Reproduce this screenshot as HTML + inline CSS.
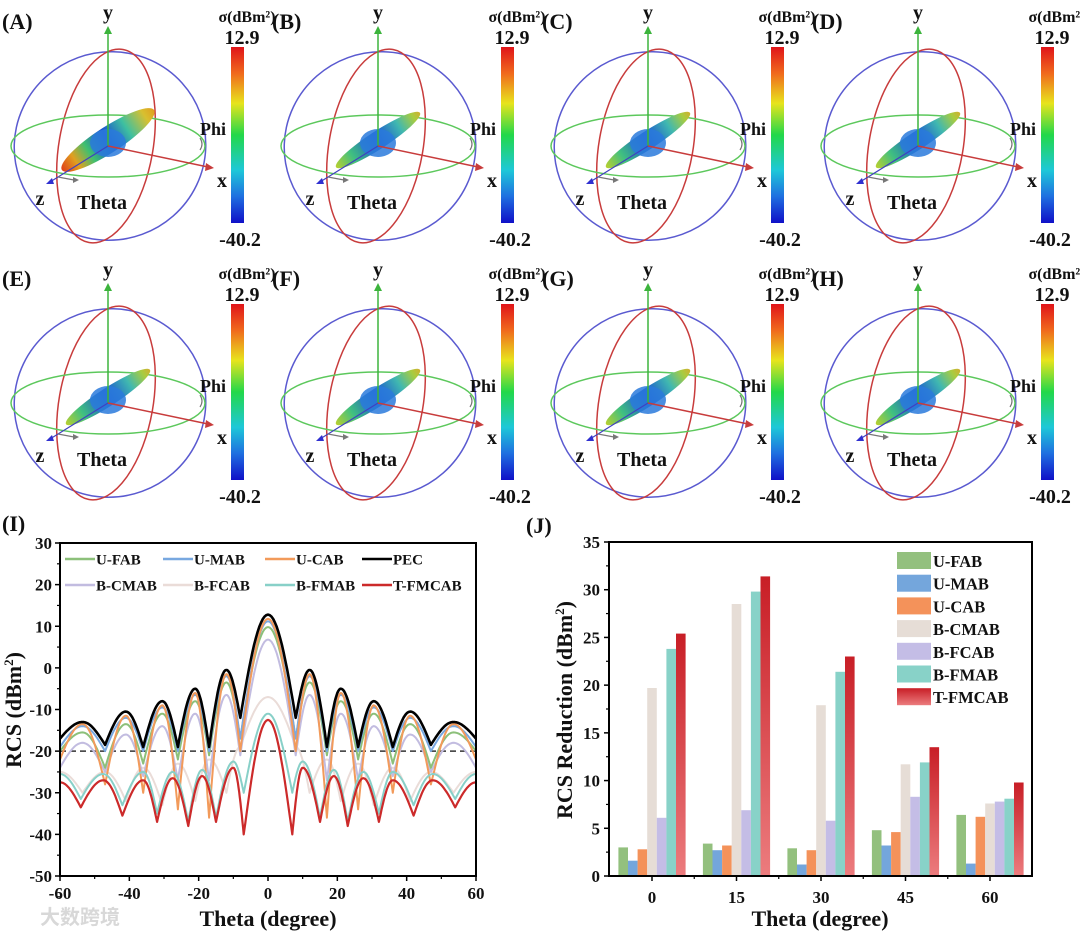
<!DOCTYPE html>
<html><head><meta charset="utf-8">
<style>
html,body{margin:0;padding:0;background:#fff;}
body{width:1080px;height:939px;position:relative;overflow:hidden;font-family:"Liberation Serif",serif;}
svg{position:absolute;left:0;top:0;}
text{font-family:"Liberation Serif",serif;font-weight:bold;fill:#111;}
</style></head>
<body>
<svg id="fig" width="1080" height="939" viewBox="0 0 1080 939" xmlns="http://www.w3.org/2000/svg">
<defs>
<linearGradient id="cbar" x1="0" y1="0" x2="0" y2="1">
<stop offset="0" stop-color="#e0141a"/><stop offset="0.15" stop-color="#f06a1c"/><stop offset="0.32" stop-color="#e8e41c"/><stop offset="0.5" stop-color="#22d84a"/><stop offset="0.7" stop-color="#1ec8d8"/><stop offset="0.85" stop-color="#1f6fe0"/><stop offset="1" stop-color="#1010c8"/>
</linearGradient>
<linearGradient id="lobeA" x1="0" y1="0" x2="1" y2="0">
<stop offset="0" stop-color="#e0401a"/><stop offset="0.15" stop-color="#e0a020"/><stop offset="0.3" stop-color="#3ec070"/><stop offset="0.5" stop-color="#1a50d0"/><stop offset="0.7" stop-color="#3ec0a0"/><stop offset="0.9" stop-color="#d8c030"/><stop offset="1" stop-color="#e0a020"/>
</linearGradient>
<linearGradient id="lobeB" x1="0" y1="0" x2="1" y2="0">
<stop offset="0" stop-color="#b8d030"/><stop offset="0.2" stop-color="#40c080"/><stop offset="0.5" stop-color="#1a50d0"/><stop offset="0.75" stop-color="#40b8b0"/><stop offset="0.92" stop-color="#a8cc40"/><stop offset="1" stop-color="#d0b030"/>
</linearGradient>
<linearGradient id="redbar" x1="0" y1="0" x2="0" y2="1">
<stop offset="0" stop-color="#c81e26"/><stop offset="1" stop-color="#ec7c7e"/>
</linearGradient>
</defs>
<g id="panels"></g>
<g id="chartI"></g>
<g id="chartJ"></g>
<text x="40" y="924" font-size="20" style="fill:#d8d8d8;font-family:'Liberation Sans','Noto Sans CJK SC',sans-serif;">大数跨境</text>
</svg>
<script>
var NS='http://www.w3.org/2000/svg';
function mk(tag,attrs,parent,txt){var e=document.createElementNS(NS,tag);for(var k in attrs)e.setAttribute(k,attrs[k]);if(txt!==undefined)e.textContent=txt;parent.appendChild(e);return e;}

/* ===== 3D panels ===== */
var panelLabels=['(A)','(B)','(C)','(D)','(E)','(F)','(G)','(H)'];
var panelsG=document.getElementById('panels');
panelLabels.forEach(function(lab,i){
  var ox=(i%4)*270, oy=Math.floor(i/4)*257;
  var g=mk('g',{transform:'translate('+ox+','+oy+')'},panelsG);
  
  
  var t=mk('text',{x:2,y:29,'font-size':22},g,lab);
  
  
  mk('ellipse',{cx:110,cy:146,rx:96,ry:94,transform:'rotate(-20 110 146)',fill:'none',stroke:'#5a5ad0','stroke-width':1.5},g);
  mk('ellipse',{cx:106,cy:146,rx:47,ry:98,transform:'rotate(10 106 146)',fill:'none',stroke:'#c83c3c','stroke-width':1.5},g);
  mk('ellipse',{cx:108,cy:146,rx:97,ry:31,fill:'none',stroke:'#5cc85c','stroke-width':1.5},g);
  var lobe=mk('ellipse',{cx:108,cy:140,rx:i==0?55:50,ry:i==0?13:9,transform:'rotate(-33 108 140)',fill:i==0?'url(#lobeA)':'url(#lobeB)'},g);
  
  
  mk('ellipse',{cx:108,cy:143,rx:18,ry:14,fill:'#2a7adc',opacity:0.85},g);
  mk('line',{x1:108,y1:146,x2:108,y2:32,stroke:'#3cb43c','stroke-width':1.5},g);
  mk('polygon',{points:'104,34 112,34 108,26',fill:'#3cb43c'},g);
  mk('line',{x1:108,y1:146,x2:208,y2:167,stroke:'#c83c3c','stroke-width':1.5},g);
  mk('polygon',{points:'206,163 214,168 205,171',fill:'#c83c3c'},g);
  mk('line',{x1:108,y1:146,x2:50,y2:182,stroke:'#4040c0','stroke-width':1.2},g);
  mk('polygon',{points:'52,178 46,184 54,184',fill:'#3030d0'},g);
  mk('line',{x1:58,y1:177,x2:74,y2:180,stroke:'#777','stroke-width':1.2},g);
  mk('polygon',{points:'73,177 79,180 73,183',fill:'#777'},g);
  mk('path',{d:'M200,150 q4,-6 0,-12',fill:'none',stroke:'#777','stroke-width':1.2},g);
  mk('text',{x:108,y:19,'font-size':20,'text-anchor':'middle'},g,'y');
  mk('text',{x:222,y:187,'font-size':20,'text-anchor':'middle'},g,'x');
  mk('text',{x:40,y:205,'font-size':20,'text-anchor':'middle'},g,'z');
  mk('text',{x:77,y:209,'font-size':20},g,'Theta');
  mk('text',{x:200,y:135,'font-size':18},g,'Phi');
  var cb=mk('rect',{x:231,y:47,width:13,height:176,fill:'url(#cbar)'},g);
  
  
  mk('text',{x:247,y:22,'font-size':16,'text-anchor':'middle'},g,'σ(dBm²)');
  mk('text',{x:242,y:44,'font-size':20,'text-anchor':'middle'},g,'12.9');
  mk('text',{x:240,y:246,'font-size':20,'text-anchor':'middle'},g,'-40.2');
});

/* ===== Chart I data ===== */
var iSeriesNames=['U-FAB','U-MAB','U-CAB','PEC','B-CMAB','B-FCAB','B-FMAB','T-FMCAB'];
var iThetaKeys=[-60,-53.5,-47,-41,-36,-30.5,-26,-21,-17,-12,-8,0,8,12,17,21,26,30.5,36,41,47,53.5,60];
var ufabVals=[-20,-15.5,-24,-13.5,-23,-11,-22,-8,-21,-3.5,-17,9.8,-17,-3.5,-21,-8,-22,-11,-23,-13.5,-24,-15.5,-20];
var umabVals=[-19,-14,-20,-12,-20,-9.5,-20,-6.5,-20,-2,-17,11.2,-17,-2,-20,-6.5,-20,-9.5,-20,-12,-20,-14,-19];
var ucabVals=[-22,-13.5,-28,-11.5,-30,-9,-34,-6,-36,-1.5,-20,11.8,-20,-1.5,-36,-6,-34,-9,-30,-11.5,-28,-13.5,-22];
var pecVals=[-17,-13,-18.5,-10.5,-19,-8,-19,-5,-19,-0.5,-12,12.8,-12,-0.5,-19,-5,-19,-8,-19,-10.5,-18.5,-13,-17];
var bcmabVals=[-24,-18,-25,-16,-26,-14,-27,-11,-27,-6.5,-21,6.8,-21,-6.5,-27,-11,-27,-14,-26,-16,-25,-18,-24];
var bfcabVals=[-25,-30,-25,-32,-24,-33,-23,-32,-22,-30,-19,-7,-19,-30,-22,-32,-23,-33,-24,-32,-25,-30,-25];
var rThetaKeys=[-60,-54,-47.5,-42,-36,-32,-27.5,-23,-19,-15,-10,-7,0,7,10,15,19,23,27.5,32,36,42,47.5,54,60];
var bfmabVals=[-25.5,-31.5,-25.5,-33,-25,-35,-25,-37,-24.5,-36,-22.5,-30,-11,-30,-22.5,-36,-24.5,-37,-25,-35,-25,-33,-25.5,-31.5,-25.5];
var tfmcabVals=[-27.5,-33.5,-27,-35.5,-27,-37,-26.5,-38,-26,-37,-24,-40,-12.5,-40,-24,-37,-26,-38,-26.5,-37,-27,-35.5,-27,-33.5,-27.5];
var iYTicks=[30,20,10,0,-10,-20,-30,-40,-50];
var iXTicks=[-60,-40,-20,0,20,40,60];

/* ===== Chart J data ===== */
var jCategories=['0','15','30','45','60'];
var jSeriesNames=['U-FAB','U-MAB','U-CAB','B-CMAB','B-FCAB','B-FMAB','T-FMCAB'];
var jUFAB=[3.0,3.4,2.9,4.8,6.4];
var jUMAB=[1.6,2.7,1.2,3.2,1.3];
var jUCAB=[2.8,3.2,2.7,4.6,6.2];
var jBCMAB=[19.7,28.5,17.9,11.7,7.6];
var jBFCAB=[6.1,6.9,5.8,8.3,7.8];
var jBFMAB=[23.8,29.8,21.4,11.9,8.1];
var jTFMCAB=[25.4,31.4,23.0,13.5,9.8];
var jYTicks=[0,5,10,15,20,25,30,35];

/* ===== Chart I drawing ===== */
(function(){
  var G=document.getElementById('chartI');
  var L=60,R=476,T=543,B=876;
  function xs(t){return L+(t+60)/120*(R-L);}
  function ys(v){return T+(30-v)/80*(B-T);}
  var lab=mk('text',{x:2,y:531,'font-size':22},G,'(I)');
  
  
  var colors=['#8cc07a','#78a8e0','#f29a5a','#000000','#c2bce0','#eadcd8','#88d0c8','#cc2a2a'];
  var widths=[2,2,2,2.6,2,2,2,2.2];
  var keys=[iThetaKeys,iThetaKeys,iThetaKeys,iThetaKeys,iThetaKeys,iThetaKeys,rThetaKeys,rThetaKeys];
  var vals=[ufabVals,umabVals,ucabVals,pecVals,bcmabVals,bfcabVals,bfmabVals,tfmcabVals];
  var order=[5,4,0,1,2,6,7,3];
  var dl=mk('line',{x1:L,x2:R,y1:ys(-20),y2:ys(-20),stroke:'#333','stroke-width':1.6,'stroke-dasharray':'6,4'},G);
  
  
  order.forEach(function(si){
    var k=keys[si],v=vals[si],d='';
    for(var j=0;j<k.length-1;j++){
      var n=16, down=v[j+1]<v[j];
      for(var s=(j==0?0:1);s<=n;s++){
        var f=s/n;
        // rounded lobe peaks, sharp nulls
        var e=down?(1-Math.cos(Math.PI*f/2)):Math.sin(Math.PI*f/2);
        var t=k[j]+(k[j+1]-k[j])*f;
        var val=v[j]+(v[j+1]-v[j])*e;
        d+=(d?'L':'M')+xs(t).toFixed(1)+','+ys(val).toFixed(1);
      }
    }
    var p=mk('path',{d:d,fill:'none',stroke:colors[si],'stroke-width':widths[si],'stroke-linejoin':'round'},G);
    
    
  });
  var fr=mk('rect',{x:L,y:T,width:R-L,height:B-T,fill:'none',stroke:'#000','stroke-width':2},G);
  
  
  iYTicks.forEach(function(v){
    mk('line',{x1:L-5,x2:L,y1:ys(v),y2:ys(v),stroke:'#000','stroke-width':1.5},G);
    mk('line',{x1:L-3,x2:L,y1:ys(v-5),y2:ys(v-5),stroke:'#000','stroke-width':1.2},G);
    var t=mk('text',{x:L-8,y:ys(v)+6,'font-size':17,'text-anchor':'end'},G,String(v));
    
    
  });
  iXTicks.forEach(function(v){
    mk('line',{x1:xs(v),x2:xs(v),y1:B,y2:B+5,stroke:'#000','stroke-width':1.5},G);
    if(v<60)mk('line',{x1:xs(v+10),x2:xs(v+10),y1:B,y2:B+3,stroke:'#000','stroke-width':1.2},G);
    var t=mk('text',{x:xs(v),y:B+23,'font-size':17,'text-anchor':'middle'},G,String(v));
    
    
  });
  var xt=mk('text',{x:268,y:926,'font-size':22,'text-anchor':'middle'},G,'Theta (degree)');
  
  
  var yt=mk('text',{x:0,y:0,'font-size':22,'text-anchor':'middle',transform:'translate(21,710) rotate(-90)'},G);
  
  
  yt.textContent='RCS (dBm';
  mk('tspan',{dy:-8,'font-size':13},yt,'2');
  mk('tspan',{dy:8},yt,')');
  var lx=[65,163,265,362],ly=[559,585];
  iSeriesNames.forEach(function(nm,i){
    var x=lx[i%4],y=ly[Math.floor(i/4)];
    var g=mk('g',{},G);
    
    
    mk('line',{x1:x,x2:x+30,y1:y,y2:y,stroke:colors[i],'stroke-width':2.5},g);
    mk('text',{x:x+31,y:y+5.5,'font-size':15},g,nm);
  });
})();

/* ===== Chart J drawing ===== */
(function(){
  var G=document.getElementById('chartJ');
  var L=609,R=1032,T=542,B=876,c0=652,step=84.5,bw=9.6;
  function ys(v){return B-v/35*(B-T);}
  function xc(i){return c0+step*i;}
  var lab=mk('text',{x:526,y:533,'font-size':22},G,'(J)');
  
  
  var colors=['#93c07e','#74a6dc','#f4925a','#e6ddd6','#c4bde6','#88d2c8','url(#redbar)'];
  var vals=[jUFAB,jUMAB,jUCAB,jBCMAB,jBFCAB,jBFMAB,jTFMCAB];
  vals.forEach(function(arr,si){
    arr.forEach(function(v,ci){
      var x=xc(ci)+(si-3.5)*bw;
      var r=mk('rect',{x:x.toFixed(1),y:ys(v).toFixed(1),width:bw,height:(ys(0)-ys(v)).toFixed(1),fill:colors[si]},G);
      
      
    });
  });
  var fr=mk('rect',{x:L,y:T,width:R-L,height:B-T,fill:'none',stroke:'#000','stroke-width':2},G);
  
  
  jYTicks.forEach(function(v){
    mk('line',{x1:L-5,x2:L,y1:ys(v),y2:ys(v),stroke:'#000','stroke-width':1.5},G);
    if(v<35)mk('line',{x1:L-3,x2:L,y1:ys(v+2.5),y2:ys(v+2.5),stroke:'#000','stroke-width':1.2},G);
    var t=mk('text',{x:L-9,y:ys(v)+6,'font-size':17,'text-anchor':'end'},G,String(v));
    
    
  });
  jCategories.forEach(function(c,i){
    mk('line',{x1:xc(i),x2:xc(i),y1:B,y2:B+5,stroke:'#000','stroke-width':1.5},G);
    if(i<4)mk('line',{x1:xc(i)+step/2,x2:xc(i)+step/2,y1:B,y2:B+3,stroke:'#000','stroke-width':1.2},G);
    var t=mk('text',{x:xc(i),y:B+27,'font-size':17,'text-anchor':'middle'},G,c);
    
    
  });
  var xt=mk('text',{x:820,y:926,'font-size':22,'text-anchor':'middle'},G,'Theta (degree)');
  
  
  var yt=mk('text',{x:0,y:0,'font-size':22,'text-anchor':'middle',transform:'translate(572,710) rotate(-90)'},G);
  
  
  yt.textContent='RCS Reduction (dBm';
  mk('tspan',{dy:-8,'font-size':13},yt,'2');
  mk('tspan',{dy:8},yt,')');
  jSeriesNames.forEach(function(nm,i){
    var y=552+i*22.7;
    var g=mk('g',{},G);
    
    
    mk('rect',{x:897,y:y,width:34,height:17,fill:colors[i]},g);
    mk('text',{x:933,y:y+15,'font-size':16.5},g,nm);
  });
})();
</script>
</body></html>
